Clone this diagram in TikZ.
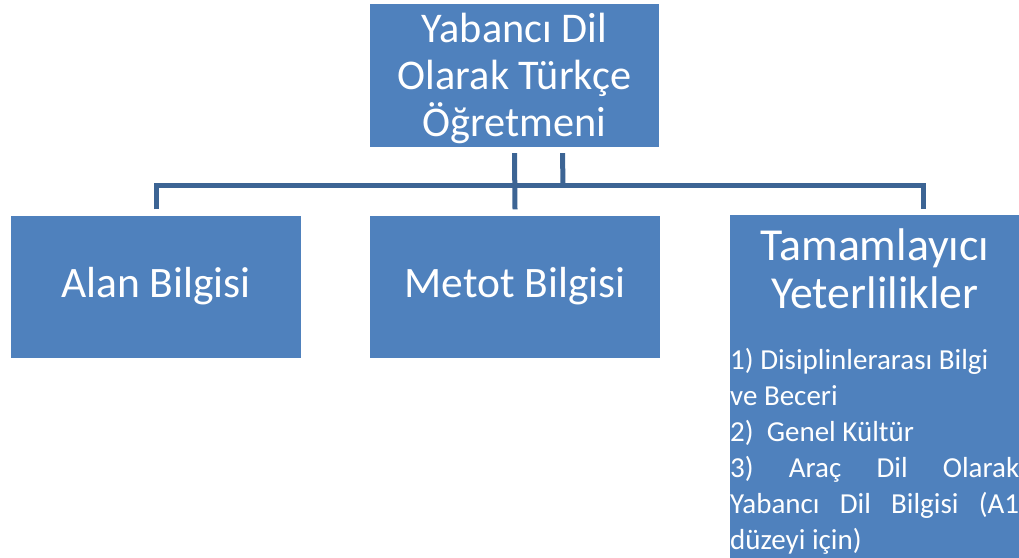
\documentclass[tikz,border=0pt]{standalone}
\usepackage{fontspec}
\setmainfont{Carlito}
\usepackage{tikz}
\usetikzlibrary{positioning,calc}
\definecolor{boxblue}{HTML}{4F81BD}
\definecolor{linkblue}{HTML}{3C6494}
\newcommand{\nobreakwords}{\hyphenpenalty=10000\relax\tolerance=10000\relax}
\tikzset{
  unit/.style  ={fill=boxblue,text=white,align=center,inner sep=0pt,minimum width=290pt,minimum height=142pt,
                 font=\fontsize{43.5}{48}\selectfont},
  head/.style  ={unit,minimum width=289pt,minimum height=143pt},
  title/.style ={text=white,align=center,inner sep=0pt,font=\fontsize{45.8}{48}\selectfont},
  headtext/.style={title,font=\fontsize{42.3}{47}\selectfont},
  items/.style ={text=white,align=justify,inner sep=0pt,text width=289pt,
                 font=\fontsize{29}{36}\selectfont},
  link/.style  ={draw=linkblue,line width=5pt}
}
\begin{document}
\begin{tikzpicture}[x=1pt,y=-1pt]
    \useasboundingbox (0,0) rectangle (1019,557);
    \node[head] (teacher) at (514.5,75.5) {};
    \node[headtext] (teachertext) at ([yshift=-3pt]teacher.center) {Yabancı Dil\\Olarak Türkçe\\Öğretmeni};
    \node[unit] (alan)  at (156,286.5) {Alan Bilgisi};
    \node[unit] (metot) at (515,286.5) {Metot Bilgisi};
    \node[unit,anchor=north west,minimum width=300pt,minimum height=345pt] (tamam) at (730,215) {};
    \node[title] (tamamtitle) at (875,269) {Tamamlayıcı\\Yeterlilikler};
    \node[items,anchor=north west] (tamamlist) at (730,348)
      {\nobreakwords 1) Disiplinlerarası Bilgi\\ve Beceri\\2)\ \ Genel Kültür\\3) Araç Dil Olarak\linebreak Yabancı Dil Bilgisi (A1\linebreak düzeyi için)\par};
    % connectors
    \coordinate (hub) at (515,185);
    \coordinate (rightdrop) at (923,185);
    \coordinate (tamamtop) at ([yshift=6pt]tamam.north);
    \draw[link] ([yshift=-6pt]teacher.south) -- ([yshift=6pt]metot.north);
    \draw[link] ([xshift=48pt,yshift=-6pt]teacher.south) -- ([xshift=48pt]hub);
    \draw[link] ([yshift=6pt]alan.north) -- (alan.north |- hub) -- (rightdrop) -- (rightdrop |- tamamtop);
\end{tikzpicture}
\end{document}
